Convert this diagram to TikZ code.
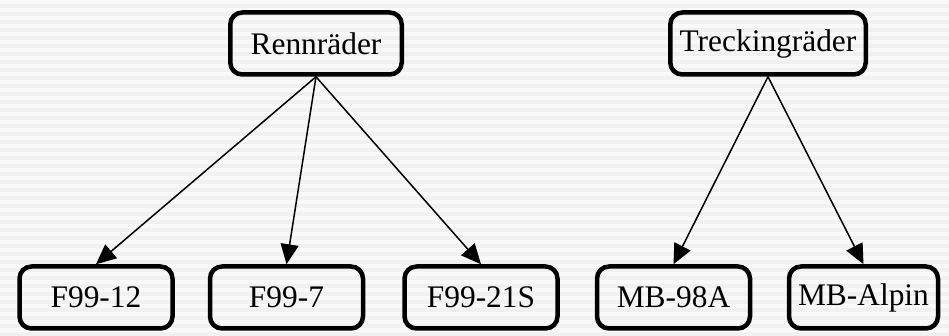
\documentclass[tikz,border=0pt]{standalone}
\usepackage{fontspec}
\setmainfont{Liberation Serif}
\usetikzlibrary{positioning, arrows.meta}

\tikzset{
    bike/.style={draw=black, line width=2.25pt, rounded corners=6pt,
        minimum height=31pt, minimum width=76.5pt,
        inner sep=2pt, font=\fontsize{15.7}{18}\selectfont},
    link/.style={line width=0.75pt, -{Triangle[length=10pt, width=9pt]}}
}

\begin{document}
\begin{tikzpicture}[x=0.5pt, y=-0.5pt]
    % striped background
    \fill[white!97.5!black] (0,0) rectangle (949,331);
    \foreach \y in {0,8,...,328}
        \fill[white!94.5!black] (0,\y+4) rectangle (949,\y+8);
    \useasboundingbox (0,0) rectangle (949,331);

    % categories
    \node[bike, minimum width=85.75pt] (renn) at (316,43.5) {Rennräder};
    \node[bike, minimum width=97.75pt] (treck) at (768,43.5) {Treckingräder};

    % models
    \node[bike] (f12) at (96,297.5) {F99-12};
    \node[bike] (f7) at (286.5,297.5) {F99-7};
    \node[bike] (f21) at (481,297.5) {F99-21S};
    \node[bike] (mb98) at (673.5,297.5) {MB-98A};
    \node[bike, minimum width=74.5pt] (mbalp) at (863.5,297.5) {MB-Alpin};

    \draw[link] (renn.south) -- (f12.north);
    \draw[link] (renn.south) -- (f7.north);
    \draw[link] (renn.south) -- (f21.north);
    \draw[link] (treck.south) -- (mb98.north);
    \draw[link] (treck.south) -- (mbalp.north);
\end{tikzpicture}
\end{document}
